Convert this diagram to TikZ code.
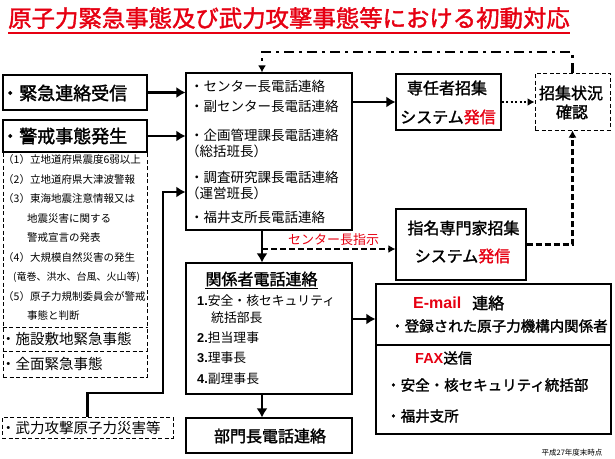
\documentclass[tikz,border=0pt]{standalone}
\usepackage{fontspec}
\setmainfont{Noto Sans CJK JP}
\newfontfamily\gothb{Noto Sans CJK JP}[FakeBold=1.6]
\newfontfamily\arialfont{Liberation Sans}
\usepackage{xcolor}
\usetikzlibrary{arrows.meta,positioning,calc}
\definecolor{alertred}{RGB}{230,0,18}

\begin{document}
\begin{tikzpicture}[x=1pt,y=-1pt,
  box/.style={draw,line width=1.2pt,inner sep=0pt},
  dbox/.style={draw,line width=1pt,dash pattern=on 4pt off 2.5pt,inner sep=0pt},
  txt/.style={anchor=west,inner sep=0pt},
  ctxt/.style={inner sep=0pt},
  fbig/.style={font=\fontsize{18}{20}\selectfont\gothb},
  fmid/.style={font=\fontsize{16}{18}\selectfont\gothb},
  fmail/.style={font=\fontsize{14.5}{17}\selectfont\gothb},
  fctr/.style={font=\fontsize{13.5}{15}\selectfont},
  fcond/.style={font=\fontsize{10.5}{12}\selectfont},
  flist/.style={font=\fontsize{14.5}{16}\selectfont},
  thickarr/.style={line width=2.8pt,-{Latex[length=9pt,width=11pt]}},
  thinarr/.style={-{Latex[length=7pt,width=8pt]}}]
  \useasboundingbox (0,0) rectangle (615,458);

  % title
  \node[txt,text=alertred,font=\fontsize{23.4}{26}\selectfont\gothb] (title) at (8,18) {原子力緊急事態及び武力攻撃事態等における初動対応};
  \draw[alertred,line width=1.6pt] (title.west |- 0,33) -- (title.east |- 0,33);

  % left column
  \node[dbox,minimum width=144pt,minimum height=225pt] (cond) at (75,264.5) {};
  \draw[line width=1pt,dash pattern=on 4pt off 2.5pt] (cond.west |- 0,327) -- (cond.east |- 0,327);
  \draw[line width=1pt,dash pattern=on 4pt off 2.5pt] (cond.west |- 0,351) -- (cond.east |- 0,351);
  \node[box,fill=white,minimum width=144pt,minimum height=35pt] (recv) at (75,92.5) {};
  \node[box,fill=white,minimum width=144pt,minimum height=32pt] (alert) at (75,136) {};
  \node[txt,fbig] (recvt) at (1,93) {・緊急連絡受信};
  \node[txt,fbig] (alertt) at (1,136) {・警戒事態発生};
  \node[txt,fcond] (c1) at (3,160) {（1）立地道府県震度6弱以上};
  \node[txt,fcond] (c2) at (3,179.5) {（2）立地道府県大津波警報};
  \node[txt,fcond] (c3) at (3,199) {（3）東海地震注意情報又は};
  \node[txt,fcond] (c3b) at (27,218.5) {地震災害に関する};
  \node[txt,fcond] (c3c) at (27,238) {警戒宣言の発表};
  \node[txt,fcond] (c4) at (3,257.5) {（4）大規模自然災害の発生};
  \node[txt,font=\fontsize{10}{12}\selectfont,anchor=west,inner sep=0pt] (c4b) at (13,277) {(竜巻、洪水、台風、火山等)};
  \node[txt,fcond] (c5) at (3,296.5) {（5）原子力規制委員会が警戒};
  \node[txt,fcond] (c5b) at (27,316) {事態と判断};
  \node[txt,flist] (site) at (1,339) {・施設敷地緊急事態};
  \node[txt,flist] (full) at (1,364) {・全面緊急事態};
  \node[dbox,minimum width=171pt,minimum height=21pt] (armed) at (87.5,427.5) {};
  \node[txt,flist] (armedt) at (1,428) {・武力攻撃原子力災害等};

  % centre column
  \node[box,minimum width=166pt,minimum height=157pt] (ctr) at (269,151.5) {};
  \node[txt,fctr] (t1) at (190,86) {・センター長電話連絡};
  \node[txt,fctr] (t2) at (190,106) {・副センター長電話連絡};
  \node[txt,fctr] (t3) at (190,135) {・企画管理課長電話連絡};
  \node[txt,fctr] (t3b) at (186,151) {（総括班長）};
  \node[txt,fctr] (t4) at (190,177) {・調査研究課長電話連絡};
  \node[txt,fctr] (t4b) at (186,193) {（運営班長）};
  \node[txt,fctr] (t5) at (190,217) {・福井支所長電話連絡};

  \node[box,minimum width=166pt,minimum height=131pt] (rel) at (269,328.5) {};
  \node[ctxt,fmid] (relt) at (261.5,279) {関係者電話連絡};
  \draw[line width=1pt] (relt.south west) ++(0,2) -- ($(relt.south east)+(0,2)$);
  \node[txt,font=\fontsize{12.8}{15}\selectfont] (r1) at (197,301) {{\arialfont\bfseries 1.}安全・核セキュリティ};
  \node[txt,font=\fontsize{12.8}{15}\selectfont] (r1b) at (211,318) {統括部長};
  \node[txt,font=\fontsize{12.8}{15}\selectfont] (r2) at (197,338) {{\arialfont\bfseries 2.}担当理事};
  \node[txt,font=\fontsize{12.8}{15}\selectfont] (r3) at (197,358) {{\arialfont\bfseries 3.}理事長};
  \node[txt,font=\fontsize{12.8}{15}\selectfont] (r4) at (197,379) {{\arialfont\bfseries 4.}副理事長};

  \node[box,minimum width=166pt,minimum height=35pt] (dept) at (269,435.5) {};
  \node[ctxt,fmid] (deptt) at (270,436) {部門長電話連絡};

  % right column
  \node[box,minimum width=105pt,minimum height=56pt] (fulltime) at (448.5,102) {};
  \node[ctxt,fmid] (ft1) at (447,88) {専任者招集};
  \node[ctxt,fmid] (ft2) at (448,117) {システム\textcolor{alertred}{発信}};

  \node[dbox,minimum width=75pt,minimum height=57pt] (check) at (572.5,101.5) {};
  \node[ctxt,fmid] (ck1) at (571,93) {招集状況};
  \node[ctxt,fmid] (ck2) at (572,112) {確認};

  \node[box,minimum width=130pt,minimum height=71pt] (expert) at (461,244.5) {};
  \node[ctxt,fmid] (ex1) at (463.5,228) {指名専門家招集};
  \node[ctxt,fmid] (ex2) at (462.5,256) {システム\textcolor{alertred}{発信}};

  \node[box,minimum width=235pt,minimum height=150pt] (mail) at (493.5,359) {};
  \draw[line width=1.2pt] (mail.west |- 0,345) -- (mail.east |- 0,345);
  \node[txt,fmid,text=alertred] (m1) at (413,303) {\arialfont\bfseries E-mail};
  \node[txt,fmid] (m1b) at (472,303) {連絡};
  \node[txt,fmail] (m2) at (390,326) {・登録された原子力機構内関係者};
  \node[txt,fmail] (m3) at (415,358) {\textcolor{alertred}{\arialfont\bfseries FAX}送信};
  \node[txt,fmail] (m4) at (386,385) {・安全・核セキュリティ統括部};
  \node[txt,fmail] (m5) at (386,416) {・福井支所};

  \node[ctxt,font=\fontsize{7.5}{8}\selectfont] (note) at (572,453) {平成27年度末時点};

  % connectors
  \coordinate (spine) at (262,0);
  \coordinate (kink) at (163,393);
  \draw[thickarr] (recv.east) -- (recv.east -| ctr.west);
  \draw[thickarr] (alert.east) -- (alert.east -| ctr.west);
  \draw[thickarr] (armed.north) |- (kink) |- (ctr.west |- 0,192);
  \draw[thickarr] (fulltime.west -| ctr.east) -- (fulltime.west);
  \draw[line width=2pt,dash pattern=on 2pt off 2.5pt,thinarr] (fulltime.east) -- (fulltime.east -| check.west);
  \draw[line width=2.5pt,dash pattern=on 10pt off 5pt on 3pt off 5pt,thinarr] (check.north) |- (spine |- 0,52) -- (spine |- ctr.north);
  \draw[thickarr] (spine |- ctr.south) -- (spine |- rel.north);
  \draw[line width=1.8pt,dash pattern=on 6pt off 3pt,thinarr] (spine |- 0,249) -- (expert.west |- 0,249);
  \node[ctxt,text=alertred,font=\fontsize{13}{15}\selectfont] (instr) at (333.5,240) {センター長指示};
  \draw[line width=2.2pt,dash pattern=on 6pt off 3pt,thinarr] (expert.east) -| (check.south);
  \draw[thickarr] (rel.east |- 0,319) -- (mail.west |- 0,319);
  \draw[thickarr] (spine |- rel.south) -- (spine |- dept.north);
\end{tikzpicture}
\end{document}
